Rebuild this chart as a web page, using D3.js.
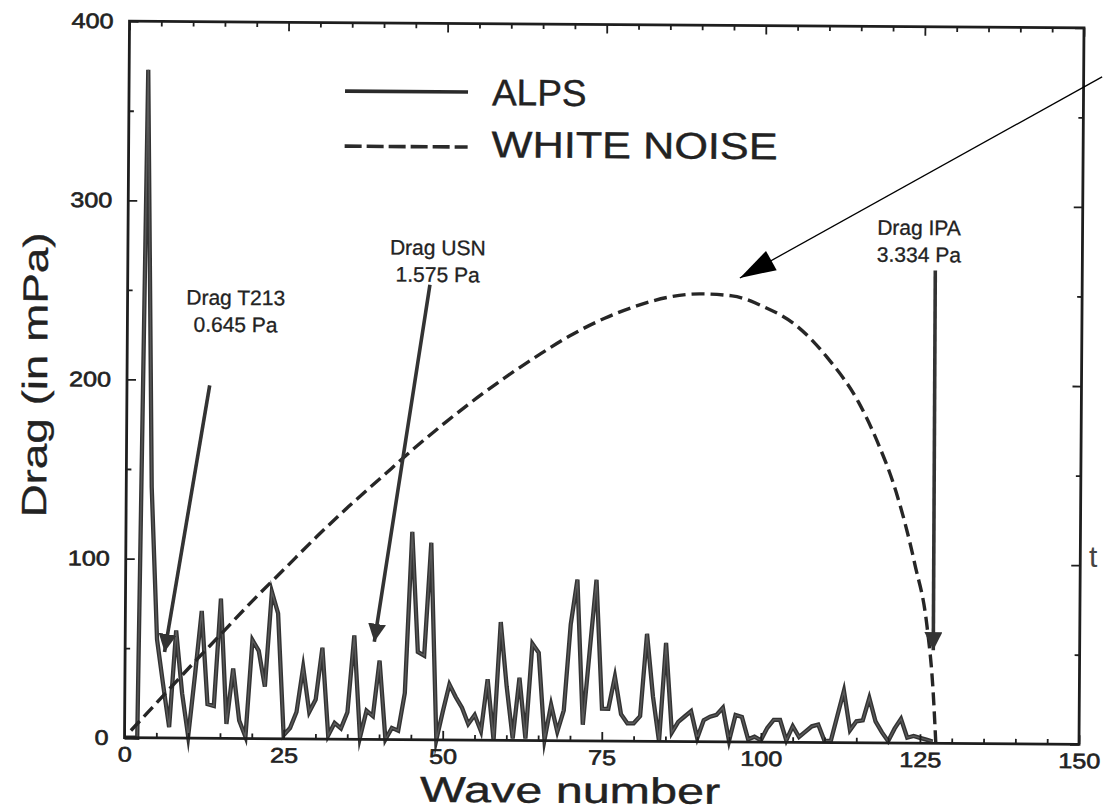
<!DOCTYPE html>
<html><head><meta charset="utf-8">
<script src="https://cdn.jsdelivr.net/npm/d3@7"></script>
<style>body{margin:0;background:#fff}svg{display:block}</style>
</head><body>
<svg id="c" width="1103" height="810"></svg>
<script>
// ---------- data ----------
// ALPS drag spectrum, one value per wave number (0,1,2,...)
const alpsValues = [
  0,0,0,373,140,55,30,6,60,25,
  1,35,71,19,18,78,8,39,10,1,
  55,49,29,82,70,2,6,15,40,15,
  22,51,2,9,6,15,58,1,16,13,
  44,0,6.5,5,26,116,49,47,110,0,
  16,31,24,18,9,14,5,34,0,66,
  30,1,35,1,54,49,0.5,20,5,17,
  65,90,9,50,90,18,18,36,15,10,
  10,14,60,25,0,55,5,11,14,17,
  2,12,14,15,19,0.5,15,14,1.5,3,
  1,8,12.5,12.5,1,9,3,6,9,10,
  1,1,15,29,7,12,12.5,25,12,6,
  1,8,13.5,3,4,3,2,1
];
// WHITE NOISE drag spectrum (read at selected wave numbers)
const noiseWave   = [1,5,10,15,20,25,30,35,40,45,50,55,60,65,70,75,80,85,90,95,100,105,110,115,118,121,124,126,127,127.5];
const noiseValues = [4,19.5,39,58,77,95,113,130,146,162,177,191,204,216,227,236,243,248,250,249,243,233,215,190,168,140,100,65,30,0];

const xTicks = [0,25,50,75,100,125,150];
const yTicks = [0,100,200,300,400];
const seriesNames = ["ALPS","WHITE NOISE"];
const xTitle = "Wave number";
const yTitle = "Drag (in mPa)";
const annotationLabels = [["Drag T213","0.645 Pa"],["Drag USN","1.575 Pa"],["Drag IPA","3.334 Pa"]];

// ---------- drawing ----------
const svg = d3.select("#c");
const g = svg.append("g").attr("transform","rotate(0.4 606 383)");

const x = d3.scaleLinear().domain([0,150]).range([127,1081.5]);
const y = d3.scaleLinear().domain([0,400]).range([741,24.5]);

const ink = "#1e1e1e", lineCol = "#333", textCol = "#222";
const ff = "Liberation Sans, Arial, Helvetica, sans-serif";

function stretch(sel, f){
  sel.each(function(){
    const len = this.getComputedTextLength();
    d3.select(this).attr("textLength", len*f).attr("lengthAdjust","spacingAndGlyphs");
  });
}
function inkText(sel, w){ sel.attr("stroke",textCol).attr("stroke-width",w).attr("fill",textCol); }

// series
const alpsPts = alpsValues.map((v,i)=>[i,v]);
const line = d3.line().x(d=>x(d[0])).y(d=>y(d[1]));
g.append("path").datum(alpsPts).attr("d",line)
  .attr("fill","none").attr("stroke",lineCol).attr("stroke-width",4.3)
  .attr("stroke-linejoin","miter").attr("stroke-miterlimit",8);
g.append("path").datum(alpsPts).attr("d",line)
  .attr("fill","none").attr("stroke","#5a5a5a").attr("stroke-width",1.4)
  .attr("stroke-linejoin","miter").attr("stroke-miterlimit",8);

const noisePts = noiseWave.map((k,i)=>[k,noiseValues[i]]);
g.append("path").datum(noisePts).attr("d",d3.line().x(d=>x(d[0])).y(d=>y(d[1])).curve(d3.curveMonotoneX))
  .attr("fill","none").attr("stroke","#262626").attr("stroke-width",3.4)
  .attr("stroke-dasharray","13,6");

// frame
g.append("rect").attr("x",x(0)).attr("y",y(400)).attr("width",x(150)-x(0)).attr("height",y(0)-y(400))
  .attr("fill","none").attr("stroke",ink).attr("stroke-width",2.8);

const minorX = d3.range(5,150,5).filter(v=>v%25!==0);
const minorY = d3.range(50,400,50).filter(v=>v%100!==0);

function styleAxis(a){ a.select(".domain").remove(); a.selectAll("line").attr("stroke",ink).attr("stroke-width",1.8); }

// bottom
const ab = g.append("g").attr("transform",`translate(0,${y(0)})`)
  .call(d3.axisBottom(x).tickValues(xTicks).tickSize(-9).tickPadding(9).tickFormat(d3.format("d")));
styleAxis(ab);
ab.selectAll("text").attr("font-family",ff).attr("font-size",21).call(inkText,0.6);
const abm = g.append("g").attr("transform",`translate(0,${y(0)})`).call(d3.axisBottom(x).tickValues(minorX).tickSize(-5).tickFormat(""));
styleAxis(abm);
// top
const at = g.append("g").attr("transform",`translate(0,${y(400)})`).call(d3.axisTop(x).tickValues(xTicks).tickSize(-9).tickFormat(""));
styleAxis(at);
const atm = g.append("g").attr("transform",`translate(0,${y(400)})`).call(d3.axisTop(x).tickValues(minorX).tickSize(-5).tickFormat(""));
styleAxis(atm);
// left
const al = g.append("g").attr("transform",`translate(${x(0)},0)`)
  .call(d3.axisLeft(y).tickValues(yTicks).tickSize(-9).tickPadding(16).tickFormat(d3.format("d")));
styleAxis(al);
al.selectAll("text").attr("font-family",ff).attr("font-size",21).call(inkText,0.6);
const alm = g.append("g").attr("transform",`translate(${x(0)},0)`).call(d3.axisLeft(y).tickValues(minorY).tickSize(-5).tickFormat(""));
styleAxis(alm);
// right
const ar = g.append("g").attr("transform",`translate(${x(150)},0)`).call(d3.axisRight(y).tickValues(yTicks).tickSize(-9).tickFormat(""));
styleAxis(ar);
const arm = g.append("g").attr("transform",`translate(${x(150)},0)`).call(d3.axisRight(y).tickValues(minorY).tickSize(-5).tickFormat(""));
styleAxis(arm);
stretch(ab.selectAll("text"),1.2);
stretch(al.selectAll("text"),1.2);

// axis titles
g.append("text").attr("x",573).attr("y",803).attr("text-anchor","middle")
  .attr("font-family",ff).attr("font-size",36).call(inkText,0.4)
  .attr("textLength",300).attr("lengthAdjust","spacingAndGlyphs").text(xTitle);
g.append("text").attr("transform","translate(47,379) rotate(-90)").attr("text-anchor","middle")
  .attr("font-family",ff).attr("font-size",35).call(inkText,0.3)
  .attr("textLength",285).attr("lengthAdjust","spacingAndGlyphs").text(yTitle);

// legend
const lg = g.append("g");
lg.append("line").attr("x1",343).attr("x2",466).attr("y1",93).attr("y2",93).attr("stroke","#2a2a2a").attr("stroke-width",3.6);
lg.append("line").attr("x1",343).attr("x2",466).attr("y1",148).attr("y2",148).attr("stroke","#2a2a2a").attr("stroke-width",3.6).attr("stroke-dasharray","17,5");
lg.append("text").attr("x",490).attr("y",106).attr("font-family",ff).attr("font-size",37).call(inkText,0.4).text(seriesNames[0]);
lg.append("text").attr("x",490).attr("y",158).attr("font-family",ff).attr("font-size",37).call(inkText,0.4)
  .attr("textLength",286).attr("lengthAdjust","spacingAndGlyphs").text(seriesNames[1]);

// annotations (anchored in data coordinates)
const annoTextAt = [[17,242],[48.7,270.7],[124.3,283.7]];
const annoFrom = [[13,197],[47.5,254],[126.9,264]];
const annoTo = [[6.2,48],[39.15,54.5],[127,52]];
const defs = svg.append("defs");
defs.append("marker").attr("id","ah").attr("viewBox","0 0 10 10").attr("refX",10).attr("refY",5)
  .attr("markerWidth",5).attr("markerHeight",5).attr("markerUnits","strokeWidth").attr("orient","auto")
  .append("path").attr("d","M0,0 L10,5 L0,10 z").attr("fill","#333");
annotationLabels.forEach((lines,i)=>{
  const [tk,tv] = annoTextAt[i];
  lines.forEach((s,j)=>{
    g.append("text").attr("x",x(tk)).attr("y",y(tv)+j*27).attr("text-anchor","middle")
      .attr("font-family",ff).attr("font-size",21).call(inkText,0.3).text(s);
  });
  g.append("line").attr("x1",x(annoFrom[i][0])).attr("y1",y(annoFrom[i][1]))
    .attr("x2",x(annoTo[i][0])).attr("y2",y(annoTo[i][1]))
    .attr("stroke","#333").attr("stroke-width",3.6).attr("marker-end","url(#ah)");
});
// thin pointer to the white-noise maximum
g.append("line").attr("x1",x(152.9)).attr("y1",y(372.7)).attr("x2",x(96.2)).attr("y2",y(259))
  .attr("stroke","#000").attr("stroke-width",1.3);
{
  const x1=x(152.9), y1=y(372.7), x2=x(96.2), y2=y(259);
  const L=Math.hypot(x2-x1,y2-y1), ux=(x2-x1)/L, uy=(y2-y1)/L;
  const len=36, hw=11;
  const bx=x2-ux*len, by=y2-uy*len;
  g.append("path").attr("d",`M${x2},${y2} L${bx-uy*hw},${by+ux*hw} L${bx+uy*hw},${by-ux*hw} Z`).attr("fill","#000");
}
// stray glyph of the scanned page at the right margin
svg.append("text").attr("x",1089).attr("y",567).attr("font-family",ff).attr("font-size",30).attr("fill","#444").text("t");
</script>
</body></html>
